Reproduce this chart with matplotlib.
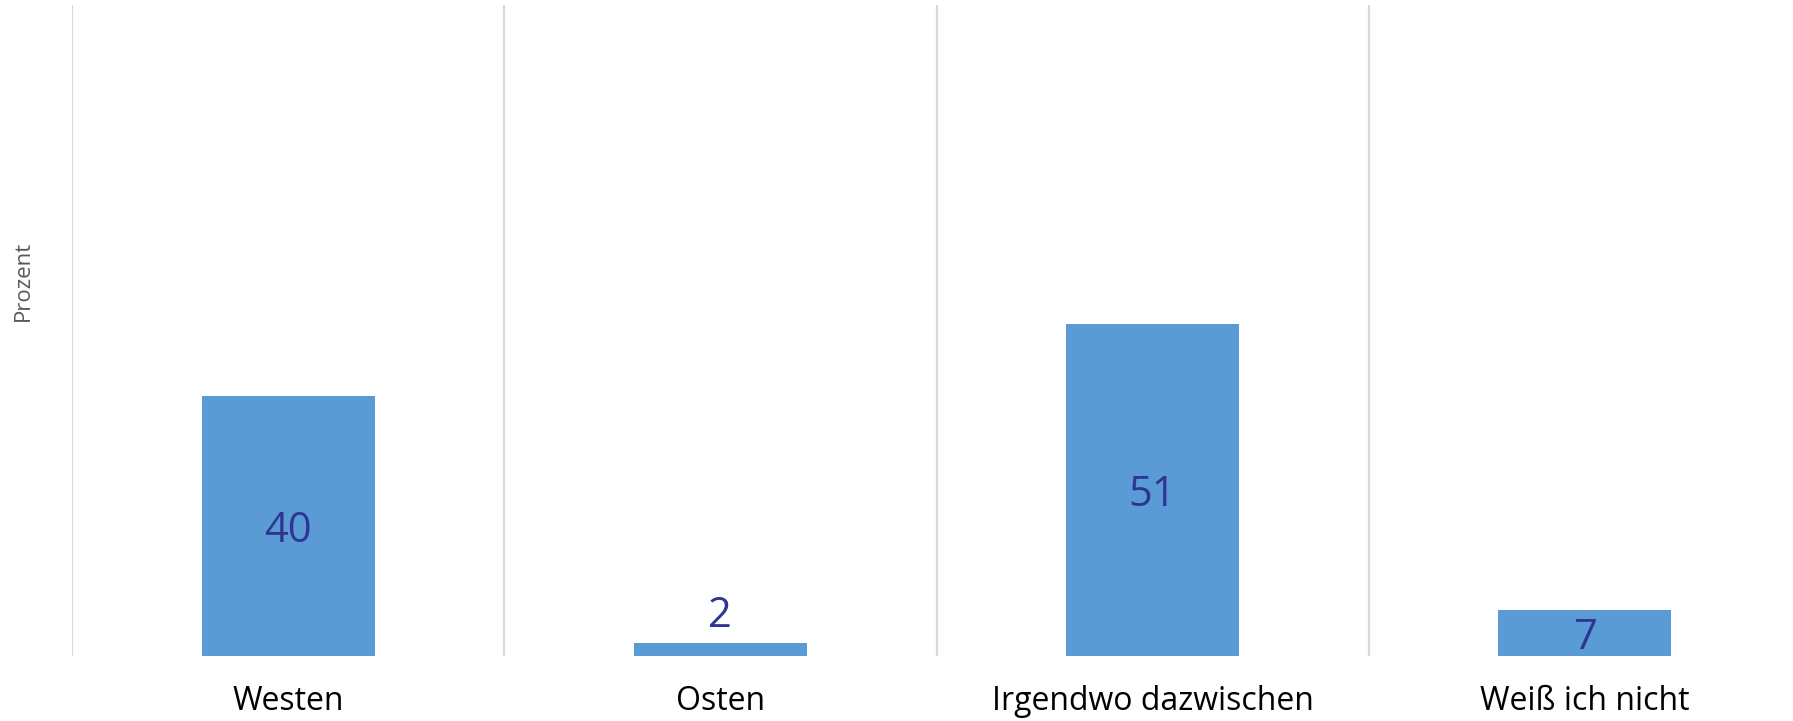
import matplotlib.pyplot as plt
import numpy as np

# Umfragedaten
categories = ["Westen", "Osten", "Irgendwo dazwischen", "Weiß ich nicht"]
values = [40, 2, 51, 7]

plt.rcParams['font.family'] = ['Open Sans', 'DejaVu Sans']

fig = plt.figure(figsize=(17.93, 7.21), dpi=100)
# axes runs a bit past the right edge, like the source
ax = fig.add_axes([72 / 1793, 65 / 721, (1801 - 72) / 1793, 651 / 721])

x = np.arange(len(categories))
bars = ax.bar(x, values, width=0.4, color="#5B9BD5", zorder=2)

ax.set_xlim(-0.5, len(categories) - 0.5)
ax.set_ylim(0, 100)

# separators between categories
for b in np.arange(-0.5, len(categories), 1.0):
    ax.axvline(b, color="#D9D9D9", lw=1.6, zorder=1)

for spine in ax.spines.values():
    spine.set_visible(False)
ax.set_yticks([])
ax.set_xticks(x)
ax.set_xticklabels(categories, fontsize=23, color="#000000")
ax.tick_params(axis="x", length=0, pad=21)

# value labels: centred in the bar, above it if the bar is too thin
for bar, v in zip(bars, values):
    cx = bar.get_x() + bar.get_width() / 2
    if v < 5:
        ax.annotate(str(v), xy=(cx, v), xytext=(0, 4), textcoords="offset points",
                    ha="center", va="bottom", fontsize=30, color="#2E3592")
    else:
        ax.text(cx, v / 2, str(v), ha="center", va="center_baseline",
                fontsize=30, color="#2E3592")

fig.text(23 / 1793, 1 - 281 / 721, "Prozent", rotation=90, ha="center", va="center",
         fontsize=16, color="#595959")

fig.savefig("out.png", dpi=100)
